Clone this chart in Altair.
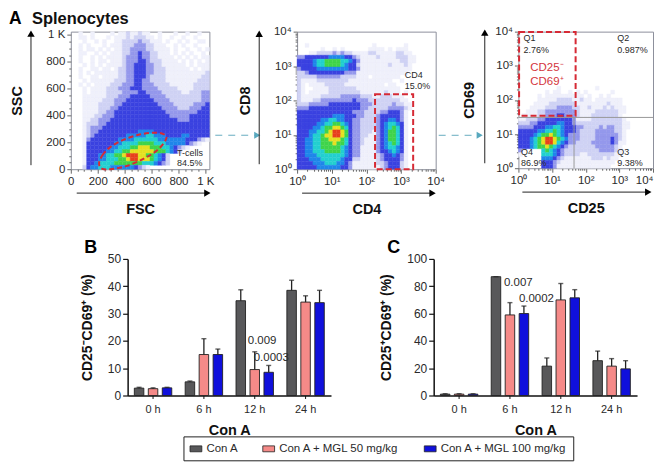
import math
import altair as alt
import pandas as pd

FONT = "Liberation Sans"
INK = "#2a2a2a"
LEVELS = {"1": "#eff0fb", "2": "#cfd2f4", "3": "#9498ec", "4": "#3a42e0", "5": "#1f86ea",
          "6": "#22d0d0", "7": "#3fd44a", "8": "#e6e020", "9": "#e8401c"}

fsc_ssc = [
"00100100001011211211001000100100100",
"00110100010111212221101001001001000",
"00010010100112222322111010010100110",
"00101000101112223332211100101001000",
"00101101010112233332211110100100101",
"00110010101112233433221110101010010",
"00100101011112333433221111010101011",
"00100101101112333443222111101010101",
"00010101011112334443322111111010111",
"00100110110122334443322211111101011",
"00101011111122334443322211111111112",
"00100110111122334443222211111111122",
"00010111111222334433222211111111222",
"00101011112223334433322221111112222",
"00010111122233344433332222211112222",
"00010111122223333443333222221122233",
"00011111122233344444333322222222233",
"00011111222333444444433332222222233",
"00011112222334444444443333222223334",
"00011112223344444444444333322233344",
"00011112233444444444444433333333444",
"00011122333444444444444443333344444",
"00011223334444444444444444433344444",
"00012223344444444444444444444444444",
"00012333444444444444444444444444444",
"00012334444444444555544444444444444",
"00012344444444555556655544445544444",
"00013444444455556666665555555444321",
"00014444444556666777766655555432100",
"00014444445566677888777665432100000",
"00014444455667788888877765420000000",
"00014445566778999887765420000000000",
"00014445566677899888765420000000000",
"00014456666777777766654320000000000",
"00024556665555554321000000000000000",
]

cd4_cd8 = [
"00000000000000000000000000000000000",
"00000000000000000000000000000000000",
"00000000000000000000000000000000000",
"00100000000000000001000000010000000",
"00000010010100000011110101110000000",
"00011222232322111122111112211000000",
"33444444555544321111211112221100000",
"44445667777665431111111111221100000",
"44445667777654421111111211121000000",
"34444555555554431111111111111000000",
"22344444444433311111111111110000000",
"22222333333222211101111111000000000",
"21111222222221111111111100100000000",
"21011112222211111111110110000000000",
"21001111222222211111111111000000000",
"21011111222222221111112111010000000",
"21111122222333332221122211100000000",
"21112233333333433322222222110000000",
"22233333444444443332222232211000000",
"33344444444444443322222333321000000",
"44444444444444333222233444310000000",
"44444444455544433222344444310000000",
"44444455665544332222344554310000000",
"44444556677654332222345665410000000",
"44445567788764332222345676410000000",
"44455667899874332221345776410000000",
"44456678899874332211345776410000000",
"44556677888764332111345776410000000",
"44556677787764332111345676410000000",
"44556677777654331111345665410000000",
"44556667777654331111344565410000000",
"44555666666654331111234454310000000",
"44455566666544221111234444310000000",
"44445556665543111111223444210000000",
"44444555555443111111123444210000000",
]

cd25_cd69 = [
"00000000000000000000000000000000000",
"00000000000000000000000000000000000",
"00000000000000000000000000000000000",
"00000000000000000000000000000000000",
"00000000000000000000000000000000000",
"00000000000000000000000000000000000",
"00000000000000000000000000000000000",
"00000000000000000000000000000000000",
"00000000000000000000000000000000000",
"00000000000000000000000000000000000",
"00000000000000000000000000000000000",
"00000000000000000000000000000000000",
"00000000000000000000000000000000000",
"00000000000000000000000000000000000",
"00000000001000000000100000000000000",
"00000001011001010100000010000000000",
"00000101111111111010010100000000000",
"00000111112222112110111111100000000",
"00001111222222211111111211100000000",
"00011112223333221121112121110000000",
"00111223333333321111222222110000000",
"01111223334433321112222222100000000",
"11222334444444311112222222210000000",
"22233444445544322222222222211000000",
"33334445566544433222232332211000000",
"44444556676544432222333332210000000",
"44445677876543332222333333210000000",
"44456789987653332222333343210000000",
"44456789986543322223333343110000000",
"44456778765432222222333332100000000",
"30000067654322222222233332100000000",
"10000066654322221122222221100000000",
"00000055543211111112221211000000000",
"00000044432111111111111110000000000",
"00000044431111111111111100000000000",
]

fsc_ticks = list(range(0, 1001, 50))
ssc_ticks = list(range(0, 1001, 50))
log_ticks = [math.log10(m * 10 ** d) for d in range(4) for m in range(1, 10)] + [4.0]

gate_fsc = [210, 235, 296, 395, 519, 642, 704, 704, 642, 543, 420, 309, 235]
gate_ssc = [42, 104, 166, 220, 260, 272, 252, 215, 141, 79, 25, 2, 2]

groups = ["0 h", "6 h", "12 h", "24 h"]
series = ["Con A", "Con A + MGL 50 mg/kg", "Con A + MGL 100 mg/kg"]
fills = ["#58585a", "#f58a88", "#1010dc"]
b_vals = [[2.7, 5.0, 34.7, 38.5], [2.5, 15.0, 9.5, 34.2], [2.8, 15.0, 8.5, 34.0]]
b_errs = [[3.0, 5.3, 38.7, 42.2], [2.8, 20.8, 16.0, 36.5], [3.0, 17.0, 11.0, 38.5]]
c_vals = [[1.0, 87.0, 21.5, 25.5], [1.0, 59.0, 70.0, 21.5], [1.0, 60.0, 71.5, 19.5]]
c_errs = [[1.3, 87.0, 27.5, 32.5], [1.3, 68.0, 82.0, 27.0], [1.3, 65.5, 77.5, 25.5]]


def grid_frame(rows, xmax, ymax):
    n = len(rows)
    out = []
    for r, row in enumerate(rows):
        for c, ch in enumerate(row):
            if ch != "0":
                out.append({"x": c / n * xmax, "x2": (c + 1) / n * xmax,
                            "y": (n - r - 1) / n * ymax, "y2": (n - r) / n * ymax,
                            "c": LEVELS[ch]})
    return pd.DataFrame(out)


def flow_panel(rows, xd, yd, w, h, xaxis, yaxis, vx, vy, hx, hy, teal=None, texts=(), extra=()):
    xs = alt.Scale(domain=xd, nice=False, zero=False)
    ys = alt.Scale(domain=yd, nice=False, zero=False)
    dens = alt.Chart(grid_frame(rows, xd[1], yd[1])).mark_rect(strokeWidth=0.4).encode(
        x=alt.X("x:Q", scale=xs, axis=xaxis), x2="x2:Q",
        y=alt.Y("y:Q", scale=ys, axis=yaxis), y2="y2:Q",
        color=alt.Color("c:N", scale=None), stroke=alt.Stroke("c:N", scale=None))
    X = lambda: alt.X("x:Q", scale=xs, axis=None)
    Y = lambda: alt.Y("y:Q", scale=ys, axis=None)
    layers = [dens] + list(extra)
    arrows = pd.DataFrame([{"x": vx, "y": vy[0], "x2": vx, "y2": vy[1]},
                           {"x": hx[0], "y": hy, "x2": hx[1], "y2": hy}])
    layers.append(alt.Chart(arrows).mark_rule(color="#222222", strokeWidth=1).encode(
        x=X(), y=Y(), x2="x2:Q", y2="y2:Q"))
    layers.append(alt.Chart(pd.DataFrame([{"x": vx, "y": vy[1]}])).mark_point(
        shape="triangle-up", filled=True, size=55, color="#000000", opacity=1).encode(x=X(), y=Y()))
    layers.append(alt.Chart(pd.DataFrame([{"x": hx[1], "y": hy}])).mark_point(
        shape="triangle-right", filled=True, size=55, color="#000000", opacity=1).encode(x=X(), y=Y()))
    if teal:
        layers.append(alt.Chart(pd.DataFrame([{"x": teal[0], "x2": teal[1], "y": teal[2]}])).mark_rule(
            color="#66acc0", strokeWidth=1, strokeDash=[7, 6]).encode(x=X(), x2="x2:Q", y=Y()))
        layers.append(alt.Chart(pd.DataFrame([{"x": teal[1], "y": teal[2]}])).mark_point(
            shape="triangle-right", filled=True, size=50, color="#58a8be", opacity=1).encode(x=X(), y=Y()))
    for t, x, y, size, color, weight in texts:
        layers.append(alt.Chart(pd.DataFrame([{"x": x, "y": y, "t": t}])).mark_text(
            align="left", baseline="alphabetic" if weight == "bold" else "middle",
            font=FONT, fontSize=size, color=color, fontWeight=weight).encode(x=X(), y=Y(), text="t:N"))
    return alt.layer(*layers).resolve_axis(x="independent", y="independent").properties(
        width=w, height=h, view={"stroke": "#8d909c", "strokeWidth": 1})


def linear_axis(title, pad):
    return alt.Axis(values=fsc_ticks, title=title, titleFont=FONT, titleFontSize=14.5, titleFontWeight="bold",
                    titleColor="#111111", titlePadding=pad, labelFont=FONT, labelFontSize=11.5, labelColor=INK,
                    labelExpr="datum.value==1000?'1 K':datum.value%200==0?format(datum.value,'d'):''",
                    labelOverlap=False, labelFlush=False, labelBound=False, grid=False, domain=False,
                    tickColor="#666666",
                    tickSize={"condition": {"test": "datum.value%200==0", "value": 4}, "value": 2},
                    labelPadding=2)


SUP = "datum.value==0?'10⁰':datum.value==1?'10¹':datum.value==2?'10²':datum.value==3?'10³':datum.value==4?'10⁴':''"


def log_axis(title, pad, last_right=False):
    extra = {}
    if last_right:
        extra["labelAlign"] = {"condition": {"test": "datum.value==4", "value": "right"}, "value": "center"}
    return alt.Axis(values=log_ticks, title=title, titleFont=FONT, titleFontSize=14.5, titleFontWeight="bold",
                    titleColor="#111111", titlePadding=pad, labelFont=FONT, labelFontSize=11.5, labelColor=INK,
                    labelExpr=SUP, labelOverlap=False, labelFlush=False, labelBound=False, grid=False, domain=False,
                    tickColor="#666666",
                    tickSize={"condition": {"test": "abs(datum.value-round(datum.value))<0.001", "value": 4}, "value": 2},
                    labelPadding=2, **extra)


gate1 = alt.Chart(pd.DataFrame({"x": gate_fsc, "y": gate_ssc, "o": list(range(len(gate_fsc)))})).mark_line(
    color="#d62a35", strokeWidth=2, strokeDash=[5, 3], interpolate="cardinal-closed").encode(
    x=alt.X("x:Q", scale=alt.Scale(domain=[0, 1030], nice=False, zero=False), axis=None),
    y=alt.Y("y:Q", scale=alt.Scale(domain=[0, 1025], nice=False, zero=False), axis=None),
    order="o:Q")

p1 = flow_panel(fsc_ssc, [0, 1030], [0, 1025], 139, 138,
                linear_axis("FSC", 16), linear_axis("SSC", 21),
                -296, (30, 1010), (44, 1015), -178, teal=(1074, 1386, 253),
                texts=[("A", -459, 1083, 17.5, "#000000", "bold"),
                       ("Splenocytes", -289, 1083, 16.5, "#111111", "bold"),
                       ("T-cells", 790, 121, 9, INK, "normal"),
                       ("84.5%", 790, 45, 9, INK, "normal")],
                extra=[gate1])


def rect_gate(x, x2, y, y2, xd, yd):
    return alt.Chart(pd.DataFrame([{"x": x, "x2": x2, "y": y, "y2": y2}])).mark_rect(
        fillOpacity=0, stroke="#d62a35", strokeWidth=2, strokeDash=[6, 3]).encode(
        x=alt.X("x:Q", scale=alt.Scale(domain=xd, nice=False, zero=False), axis=None), x2="x2:Q",
        y=alt.Y("y:Q", scale=alt.Scale(domain=yd, nice=False, zero=False), axis=None), y2="y2:Q")


p2 = flow_panel(cd4_cd8, [0, 4], [0, 4], 139, 138,
                log_axis("CD4", 16), log_axis("CD8", 21),
                -1.094, (0.145, 3.94), (0.144, 3.91), -0.696, teal=(4.087, 5.27, 0.986),
                texts=[("CD4", 3.108, 2.73, 9, INK, "normal"), ("15.0%", 3.108, 2.41, 9, INK, "normal")],
                extra=[rect_gate(2.25, 3.35, 0, 2.18, [0, 4], [0, 4])])

quad = alt.Chart(pd.DataFrame([{"x": 0, "x2": 4, "y": 1.487, "y2": 1.487},
                               {"x": 1.653, "x2": 1.653, "y": 0, "y2": 1.487}])).mark_rule(
    color="#999999", strokeWidth=1).encode(
    x=alt.X("x:Q", scale=alt.Scale(domain=[0, 4], nice=False, zero=False), axis=None), x2="x2:Q",
    y=alt.Y("y:Q", scale=alt.Scale(domain=[0, 4], nice=False, zero=False), axis=None), y2="y2:Q")

p3 = flow_panel(cd25_cd69, [0, 4], [0, 4], 135, 137,
                log_axis("CD25", 16, last_right=True), log_axis("CD69", 18),
                -1.0, (0.145, 3.97), (0.118, 3.86), -0.70,
                texts=[("Q1", 0.15, 3.80, 9, INK, "normal"), ("2.76%", 0.15, 3.47, 9, INK, "normal"),
                       ("Q2", 2.94, 3.80, 9, INK, "normal"), ("0.987%", 2.94, 3.47, 9, INK, "normal"),
                       ("Q4", 0.08, 0.47, 9, INK, "normal"), ("86.9%", 0.08, 0.16, 9, INK, "normal"),
                       ("Q3", 2.94, 0.47, 9, INK, "normal"), ("9.38%", 2.94, 0.16, 9, INK, "normal"),
                       ("CD25⁻", 0.353, 2.94, 11.5, "#d4343c", "normal"),
                       ("CD69⁺", 0.353, 2.51, 11.5, "#d4343c", "normal")],
                extra=[quad, rect_gate(0.02, 1.70, 1.535, 3.99, [0, 4], [0, 4])])


def bar_panel(vals, errs, ymax, ytitle, yticks, letter, letter_dx, pvals, legend, ypad):
    rows = [{"t": g, "s": s, "v": vals[i][j], "e": errs[i][j]}
            for i, s in enumerate(series) for j, g in enumerate(groups)]
    df = pd.DataFrame(rows)
    xs = alt.Scale(domain=groups, paddingInner=0, paddingOuter=0)
    os_ = alt.Scale(domain=series, paddingInner=0.32, paddingOuter=0.48)
    ys = alt.Scale(domain=[0, ymax], nice=False)
    xa = alt.Axis(title="Con A", titleFont=FONT, titleFontSize=14.5, titleFontWeight="bold", titleColor="#111111",
                  titlePadding=9, labelFont=FONT, labelFontSize=11, labelColor=INK, labelAngle=0, labelPadding=5,
                  domainColor="#111111", domainWidth=1.5, tickColor="#111111", tickSize=3, tickWidth=1, grid=False)
    ya = alt.Axis(title=ytitle, titleFont=FONT, titleFontSize=14, titleFontWeight="bold", titleColor="#111111",
                  titlePadding=ypad, labelFont=FONT, labelFontSize=12, labelColor=INK, values=yticks,
                  domainColor="#111111", domainWidth=1.5, tickColor="#111111", tickSize=5, tickWidth=1.2, grid=False,
                  labelPadding=2)
    base = alt.Chart(df)
    X = alt.X("t:N", sort=groups, scale=xs, axis=xa)
    X0 = alt.X("t:N", sort=groups, scale=xs, axis=None)
    O = alt.XOffset("s:N", sort=series, scale=os_)
    bars = base.mark_bar(stroke="#222222", strokeWidth=0.9).encode(
        x=X, xOffset=O, y=alt.Y("v:Q", scale=ys, axis=ya),
        fill=alt.Fill("s:N", sort=series, scale=alt.Scale(domain=series, range=fills), legend=legend))
    err = base.mark_rule(color="#222222", strokeWidth=1.3).encode(
        x=X0, xOffset=O, y=alt.Y("v:Q", scale=ys, axis=None), y2="e:Q")
    cap = base.mark_tick(color="#222222", size=5, thickness=1.4, orient="horizontal").encode(
        x=X0, xOffset=O, y=alt.Y("e:Q", scale=ys, axis=None))
    layers = [bars, err, cap]
    for t, g, y, dx in pvals:
        layers.append(alt.Chart(pd.DataFrame([{"t": g, "y": y, "l": t}])).mark_text(
            align="left", baseline="middle", font=FONT, fontSize=11.5, color=INK, dx=dx).encode(
            x=X0, y=alt.Y("y:Q", scale=ys, axis=None), text="l:N"))
    layers.append(alt.Chart(pd.DataFrame([{"t": "0 h", "y": ymax * 1.04, "l": letter}])).mark_text(
        align="left", baseline="alphabetic", font=FONT, fontSize=18, fontWeight="bold", color="#000000",
        dx=letter_dx).encode(x=X0, y=alt.Y("y:Q", scale=ys, axis=None), text="l:N"))
    return alt.layer(*layers).resolve_axis(x="independent", y="independent").properties(
        width=204, height=137, view={"stroke": None})


legend = alt.Legend(title=None, orient="none", legendX=113, legendY=178, direction="horizontal", columns=3,
                    gridAlign="none", columnPadding=22, labelFont=FONT, labelFontSize=11.5, labelColor=INK,
                    symbolType="M-1,-0.5H1V0.5H-1Z", symbolSize=140, symbolStrokeColor="#222222",
                    symbolStrokeWidth=0.8, symbolOpacity=1, labelOffset=4, padding=6,
                    strokeColor="#222222", fillColor="#ffffff")

pB = bar_panel(b_vals, b_errs, 50, "CD25⁻CD69⁺ (%)", [0, 10, 20, 30, 40, 50], "B", -69,
               [("0.009", "12 h", 20, -7), ("0.0003", "12 h", 13.9, -1)], legend, 13)
pC = bar_panel(c_vals, c_errs, 100, "CD25⁺CD69⁺ (%)", [0, 20, 40, 60, 80, 100], "C", -72,
               [("0.007", "6 h", 82.5, -6), ("0.0002", "6 h", 71, 9)], None, 13)


def spacer(w, h):
    return alt.Chart(pd.DataFrame([{"a": 1}])).mark_point(opacity=0, size=1).encode(
        x=alt.value(0), y=alt.value(0)).properties(width=w, height=h, view={"stroke": None})


top = alt.hconcat(p1, spacer(88, 138), p2, spacer(83, 138), p3, spacing=0, bounds="flush")
bottom = alt.hconcat(spacer(56.5, 137), pB, spacer(103, 137), pC, spacing=0, bounds="flush")
chart = alt.vconcat(top, bottom, spacing=228, bounds="flush", padding=0).resolve_scale(
    color="independent", fill="independent", x="independent", y="independent")

chart.save("out.html", embed_options={"renderer": "svg", "actions": False})
